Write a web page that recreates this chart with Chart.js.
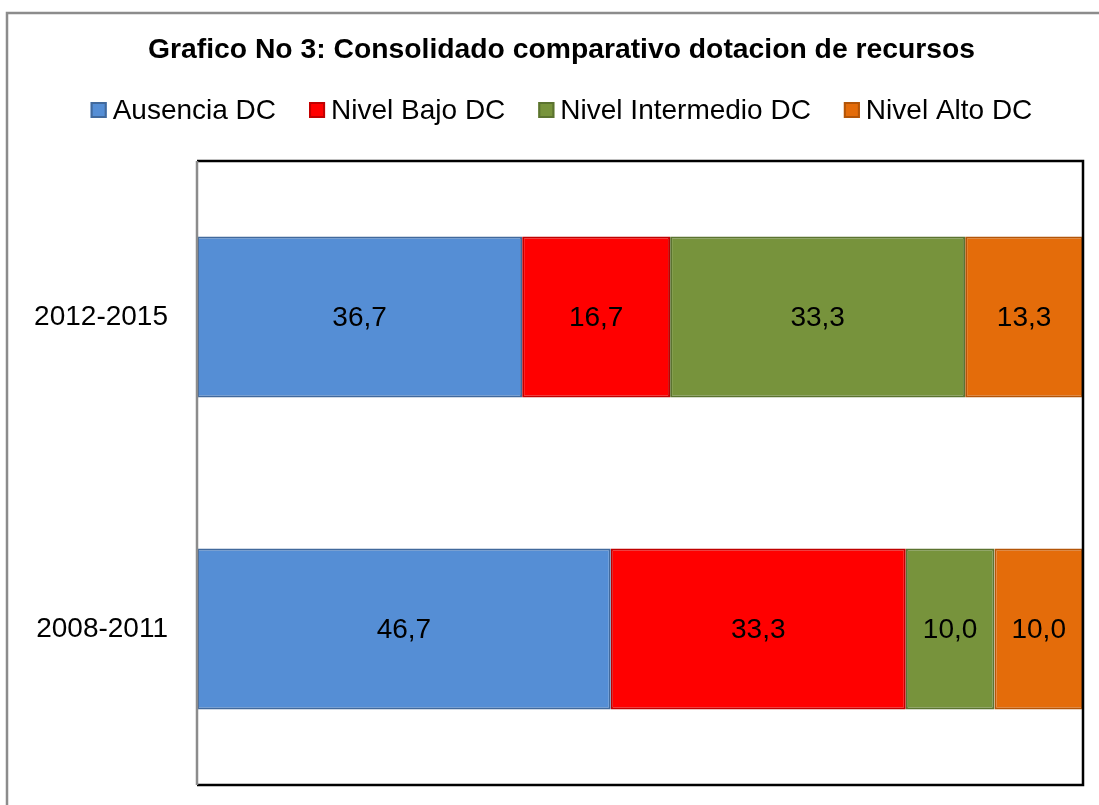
<!DOCTYPE html>
<html>
<head>
<meta charset="utf-8">
<title>Grafico No 3</title>
<script src="https://cdn.jsdelivr.net/npm/chart.js@4.4.1/dist/chart.umd.min.js"></script>
<style>
  html, body { margin: 0; padding: 0; background: #ffffff; overflow: hidden; }
  #wrap { position: relative; width: 1099px; height: 805px; }
</style>
</head>
<body>
<div id="wrap"><canvas id="chart" width="1099" height="805"></canvas></div>
<script>
const FONT_FAMILY = "'Liberation Sans', Arial, Helvetica, sans-serif";

const periods = ['2012-2015', '2008-2011'];
const ausencia = [36.7, 46.7];
const nivelBajo = [16.7, 33.3];
const nivelIntermedio = [33.3, 10.0];
const nivelAlto = [13.3, 10.0];

const seriesNames = ['Ausencia DC', 'Nivel Bajo DC', 'Nivel Intermedio DC', 'Nivel Alto DC'];
const fills = ['#558ED5', '#FF0000', '#77933C', '#E46C0A'];
const borders = ['#41699C', '#C00000', '#5B7330', '#B35508'];

const fmt = (v) => v.toFixed(1).replace('.', ',');

// outer frame of the original chart object (cropped at right/bottom)
const framePlugin = {
  id: 'outerFrame',
  beforeDraw(chart) {
    const { ctx, width, height } = chart;
    ctx.save();
    ctx.fillStyle = '#ffffff';
    ctx.fillRect(0, 0, width, height);
    ctx.strokeStyle = '#8c8c8c';
    ctx.lineWidth = 2.5;
    ctx.beginPath();
    ctx.moveTo(7, height + 5);
    ctx.lineTo(7, 13);
    ctx.lineTo(width + 5, 13);
    ctx.stroke();
    ctx.restore();
  },
  // let the category labels run left of the padded area without clipping
  afterLayout(chart) {
    chart.scales.y.left = 0;
  },
};

// plot area box: black top/right/bottom, grey left (axis)
const plotBoxPlugin = {
  id: 'plotBox',
  afterDatasetsDraw(chart) {
    const { ctx, chartArea: a } = chart;
    ctx.save();
    ctx.strokeStyle = '#000000';
    ctx.lineWidth = 2.5;
    ctx.beginPath();
    ctx.moveTo(a.left, a.top);
    ctx.lineTo(a.right, a.top);
    ctx.lineTo(a.right, a.bottom);
    ctx.lineTo(a.left, a.bottom);
    ctx.stroke();
    ctx.strokeStyle = '#8c8c8c';
    ctx.beginPath();
    ctx.moveTo(a.left, a.top);
    ctx.lineTo(a.left, a.bottom);
    ctx.stroke();
    ctx.restore();
  },
};

const valueLabelPlugin = {
  id: 'valueLabels',
  afterDatasetsDraw(chart) {
    const { ctx } = chart;
    ctx.save();
    ctx.font = `28px ${FONT_FAMILY}`;
    ctx.fillStyle = '#000000';
    ctx.textAlign = 'center';
    ctx.textBaseline = 'middle';
    chart.data.datasets.forEach((ds, i) => {
      const meta = chart.getDatasetMeta(i);
      meta.data.forEach((bar, j) => {
        const { x, y } = bar.getCenterPoint();
        ctx.fillText(fmt(ds.data[j]), x, y + 1);
      });
    });
    ctx.restore();
  },
};

// legend drawn like the spreadsheet one: small square, short gap, text
const sheetLegendPlugin = {
  id: 'sheetLegend',
  afterDraw(chart, _args, opts) {
    const { ctx } = chart;
    const box = 16;
    const gap = 6;
    const itemGap = 33;
    ctx.save();
    ctx.font = `28px ${FONT_FAMILY}`;
    const items = chart.data.datasets.map((ds) => ({
      label: ds.label,
      fill: ds.backgroundColor,
      stroke: ds.borderColor,
      w: ctx.measureText(ds.label).width,
    }));
    const total = items.reduce((s, it) => s + box + gap + it.w, 0) + itemGap * (items.length - 1);
    const tb = chart.titleBlock;
    const cx = tb ? (tb.left + tb.right) / 2 : chart.width / 2;
    let x = cx - total / 2;
    const baseline = opts.baseline;
    items.forEach((it) => {
      ctx.fillStyle = it.fill;
      ctx.fillRect(x, baseline - box - 1, box, box);
      ctx.strokeStyle = it.stroke;
      ctx.lineWidth = 2;
      ctx.strokeRect(x + 1, baseline - box, box - 2, box - 2);
      ctx.fillStyle = '#000000';
      ctx.textAlign = 'left';
      ctx.textBaseline = 'alphabetic';
      ctx.fillText(it.label, x + box + gap, baseline);
      x += box + gap + it.w + itemGap;
    });
    ctx.restore();
  },
};

const seriesData = [ausencia, nivelBajo, nivelIntermedio, nivelAlto];

const datasets = seriesNames.map((name, i) => ({
  label: name,
  data: seriesData[i],
  backgroundColor: fills[i],
  borderColor: borders[i],
  borderWidth: 2,
  borderSkipped: false,
  categoryPercentage: 1,
  barPercentage: 0.516,
}));

new Chart(document.getElementById('chart'), {
  type: 'bar',
  data: { labels: periods, datasets },
  plugins: [framePlugin, plotBoxPlugin, valueLabelPlugin, sheetLegendPlugin],
  options: {
    responsive: false,
    animation: false,
    indexAxis: 'y',
    layout: { padding: { top: 0, right: 16, bottom: 20, left: 40 } },
    font: { family: FONT_FAMILY },
    plugins: {
      legend: { display: false },
      tooltip: { enabled: false },
      title: {
        display: true,
        text: 'Grafico No 3: Consolidado comparativo dotacion de recursos',
        color: '#000000',
        font: { family: FONT_FAMILY, size: 28.3, weight: 'bold', lineHeight: 1.2 },
        padding: { top: 33, bottom: 94 },
      },
      sheetLegend: { baseline: 119 },
    },
    scales: {
      x: {
        display: false,
        stacked: true,
        min: 0,
        max: 100,
      },
      y: {
        stacked: true,
        grid: { display: false, drawTicks: false },
        border: { display: false },
        ticks: {
          color: '#000000',
          font: { family: FONT_FAMILY, size: 28 },
          padding: 29,
        },
        afterFit(scale) {
          scale.width = 157;
          scale.paddingTop = 0;
          scale.paddingBottom = 0;
        },
      },
    },
  },
});
</script>
</body>
</html>
